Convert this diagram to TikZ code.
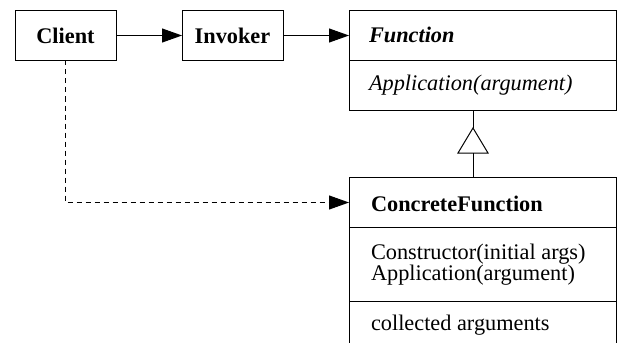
\documentclass[tikz,border=0pt]{standalone}
\usepackage{fontspec}
\setmainfont{Liberation Serif}
\usetikzlibrary{arrows.meta}
\begin{document}
\begin{tikzpicture}[x=1pt,y=-1pt,
  every node/.style={inner sep=0pt,outer sep=0pt},
  box/.style={draw,line width=1pt,minimum width=#1,minimum height=50},
  lbl/.style={anchor=base west,font=\fontsize{22.3}{20}\selectfont},
  clbl/.style={anchor=base,font=\fontsize{22.3}{20}\selectfont\bfseries},
  conn/.style={line width=1pt},
  arr/.style={conn,-{Triangle[length=20pt,width=14pt]}},
  dashconn/.style={arr,dash pattern=on 5pt off 4pt}]
\useasboundingbox (0,0) rectangle (617,342);
\clip (0,0) rectangle (617,342);
% boxes
\node[box=101] (client) at (65.5,35.5) {};
\node[box=101] (invoker) at (232.5,35.5) {};
\node[box=267] (fnhead) at (482.5,35.5) {};
\node[box=267,minimum height=50] (fnbody) at (482.5,85.5) {};
\node[box=267] (cfhead) at (482.5,202.5) {};
\node[box=267,minimum height=74] (cfops) at (482.5,264.5) {};
\draw[conn] (cfops.south west) -- ++(0,60);
\draw[conn] (cfops.south east) -- ++(0,60);
% texts
\node[clbl] (tclient) at (65.5,43.5) {Client};
\node[clbl] (tinvoker) at (232.5,43.5) {Invoker};
\node[lbl,font=\fontsize{22.3}{20}\selectfont\bfseries\itshape] (tfn) at (369,43) {Function};
\node[lbl,font=\fontsize{22.3}{20}\selectfont\itshape] (tfnop) at (369,90.5) {Application(argument)};
\node[lbl,font=\fontsize{22.3}{20}\selectfont\bfseries] (tcf) at (371,211.5) {ConcreteFunction};
\node[lbl,anchor=base west,align=left] (tcfops) at (371,280.5) {Constructor(initial args)\\Application(argument)};
\node[lbl] (tcfattr) at (371,330) {collected arguments};
% connectors
\draw[arr] (client.east) -- (invoker.west);
\draw[arr] (invoker.east) -- (invoker.east -| fnhead.west);
\coordinate (apex) at (473,128);
\coordinate (tbase) at (473,153);
\draw[conn] (apex |- fnbody.south) -- (apex);
\draw[conn,line join=miter] (apex) -- ++(-15,25) -- ++(30,0) -- cycle;
\draw[conn] (tbase) -- (tbase |- cfhead.north);
\draw[dashconn] (client.south) |- (cfhead.west);
\end{tikzpicture}
\end{document}
